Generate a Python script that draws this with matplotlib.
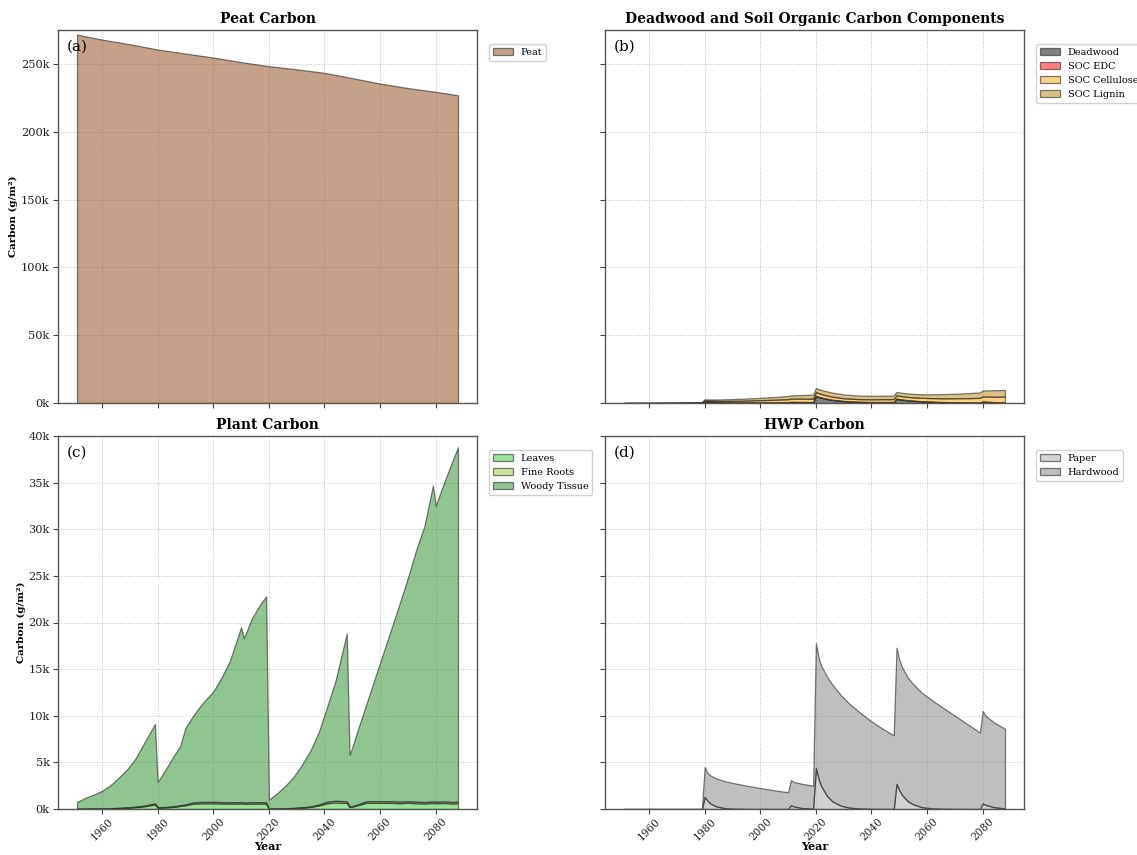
import matplotlib
matplotlib.use("Agg")
import matplotlib.pyplot as plt
from matplotlib.colors import to_rgba
from matplotlib.ticker import FuncFormatter, MultipleLocator

# ---------------- data (carbon in thousand g/m^2) ----------------
peat_years = [1951, 1960, 1970, 1980, 1990, 2000, 2010, 2020, 2030, 2040,
              2050, 2060, 2070, 2080, 2088]
peat = [271.6, 267.9, 264.5, 260.6, 257.6, 254.7, 251.3, 248.3, 246.0, 243.4,
        239.5, 235.5, 232.2, 229.4, 226.9]

soc_years = [1951, 1960, 1970, 1975, 1979, 1980, 1981, 1985, 1990, 1995,
             2000, 2005, 2010, 2011, 2015, 2019, 2020, 2021, 2023, 2026,
             2030, 2035, 2040, 2045, 2048, 2049, 2050, 2053, 2056, 2060,
             2065, 2070, 2075, 2079, 2080, 2084, 2088]
deadwood = [0.0, 0.02, 0.06, 0.12, 0.25, 1.2, 1.0, 0.6, 0.4, 0.35,
            0.35, 0.4, 0.45, 0.7, 0.6, 0.55, 5.0, 4.3, 3.3, 2.2,
            1.3, 0.8, 0.6, 0.6, 0.6, 3.0, 2.6, 1.9, 1.4, 1.0,
            0.6, 0.45, 0.35, 0.35, 0.9, 0.5, 0.3]
soc_edc = [0.0, 0.0, 0.01, 0.02, 0.03, 0.2, 0.15, 0.1, 0.1, 0.1,
           0.12, 0.12, 0.14, 0.2, 0.15, 0.15, 0.3, 0.28, 0.25, 0.2,
           0.18, 0.15, 0.15, 0.15, 0.15, 0.3, 0.28, 0.22, 0.2, 0.18,
           0.16, 0.15, 0.15, 0.15, 0.2, 0.15, 0.15]
soc_cellulose = [0.0, 0.02, 0.04, 0.08, 0.15, 0.6, 0.65, 0.85, 1.1, 1.35,
                 1.6, 1.9, 2.2, 2.3, 2.45, 2.5, 2.7, 2.62, 2.45, 2.2,
                 2.0, 1.95, 2.0, 2.05, 2.1, 2.4, 2.4, 2.35, 2.4, 2.5,
                 2.7, 2.9, 3.1, 3.3, 3.7, 4.0, 4.3]
soc_lignin = [0.0, 0.01, 0.04, 0.08, 0.17, 0.8, 0.85, 1.05, 1.3, 1.5,
              1.73, 2.0, 2.4, 2.4, 2.7, 2.9, 3.0, 3.0, 3.0, 3.0,
              2.82, 2.6, 2.55, 2.6, 2.65, 2.5, 2.52, 2.53, 2.6, 2.72,
              3.04, 3.3, 3.7, 4.0, 4.4, 4.75, 4.85]

plant_years = [1951, 1954, 1957, 1960, 1963, 1966, 1969, 1972, 1975, 1979,
               1980, 1983, 1986, 1988, 1990, 1993, 1996, 2000, 2003, 2006,
               2010, 2011, 2014, 2017, 2019, 2020, 2023, 2026, 2029, 2032,
               2035, 2038, 2041, 2044, 2048, 2049, 2050, 2052, 2055, 2058,
               2061, 2064, 2067, 2070, 2073, 2076, 2079, 2080, 2083, 2086,
               2088]
leaves = [0.02, 0.03, 0.04, 0.05, 0.07, 0.09, 0.13, 0.20, 0.28, 0.48,
          0.15, 0.17, 0.24, 0.32, 0.40, 0.58, 0.61, 0.61, 0.59, 0.58,
          0.59, 0.56, 0.58, 0.59, 0.56, 0.02, 0.04, 0.06, 0.09, 0.14,
          0.22, 0.38, 0.62, 0.70, 0.65, 0.22, 0.25, 0.40, 0.66, 0.67,
          0.66, 0.66, 0.62, 0.66, 0.62, 0.59, 0.64, 0.62, 0.64, 0.59,
          0.62]
fine_roots = [0.01, 0.01, 0.01, 0.02, 0.02, 0.03, 0.04, 0.05, 0.07, 0.12,
              0.05, 0.05, 0.06, 0.08, 0.10, 0.14, 0.15, 0.15, 0.15, 0.14,
              0.15, 0.14, 0.15, 0.15, 0.14, 0.01, 0.01, 0.02, 0.03, 0.04,
              0.06, 0.10, 0.16, 0.18, 0.17, 0.06, 0.07, 0.10, 0.16, 0.17,
              0.16, 0.17, 0.16, 0.16, 0.16, 0.15, 0.16, 0.16, 0.16, 0.15,
              0.16]
woody_tissue = [0.72, 1.16, 1.50, 1.88, 2.46, 3.23, 4.08, 5.15, 6.65, 8.50,
                2.70, 4.08, 5.50, 6.30, 8.20, 9.38, 10.54, 11.84, 13.36, 15.18,
                18.76, 17.60, 19.77, 21.26, 22.10, 0.97, 1.65, 2.42, 3.38, 4.62,
                6.02, 7.82, 10.22, 12.92, 17.98, 5.52, 6.28, 8.00, 10.38, 13.06,
                15.78, 18.47, 21.22, 23.98, 27.02, 29.66, 33.90, 31.72, 34.20, 36.56,
                38.02]

hwp_years = [1951, 1979, 1980, 1981, 1982, 1984, 1987, 1990, 1995, 2000,
             2005, 2010, 2011, 2012, 2015, 2019, 2020, 2021, 2022, 2024,
             2026, 2029, 2032, 2036, 2040, 2044, 2048, 2049, 2050, 2051,
             2053, 2055, 2058, 2062, 2066, 2070, 2074, 2079, 2080, 2081,
             2084, 2088]
paper = [0.0, 0.0, 1.3, 0.9, 0.6, 0.3, 0.1, 0.03, 0.01, 0.0,
         0.0, 0.0, 0.4, 0.28, 0.1, 0.03, 4.4, 3.2, 2.4, 1.4,
         0.8, 0.35, 0.15, 0.05, 0.02, 0.01, 0.0, 2.7, 2.0, 1.5,
         0.85, 0.5, 0.2, 0.06, 0.02, 0.01, 0.0, 0.0, 0.6, 0.45,
         0.2, 0.06]
hardwood = [0.0, 0.0, 3.2, 3.0, 3.0, 3.0, 2.9, 2.77, 2.49, 2.25,
            2.0, 1.8, 2.7, 2.62, 2.6, 2.47, 13.4, 13.0, 12.9, 12.8,
            12.5, 11.85, 11.15, 10.25, 9.38, 8.59, 7.9, 14.6, 14.0, 13.7,
            13.25, 12.9, 12.3, 11.54, 10.78, 9.99, 9.2, 8.2, 9.9, 9.55,
            9.1, 8.54]

x_ticks = [1960, 1980, 2000, 2020, 2040, 2060, 2080]

# ---------------- style ----------------
plt.rcParams["font.family"] = ["DejaVu Serif"]
plt.rcParams["axes.edgecolor"] = "#555555"
plt.rcParams["xtick.color"] = "#444444"
plt.rcParams["ytick.color"] = "#444444"
plt.rcParams["xtick.labelcolor"] = "#222222"
plt.rcParams["ytick.labelcolor"] = "#222222"

FILL_ALPHA = 0.5
EDGE = (0.15, 0.15, 0.15, 0.6)


def kilo(v):
    return [x * 1000 for x in v]


def fmt_k(v, _pos):
    return f"{v / 1000:.0f}k"


fig = plt.figure(figsize=(11.37, 8.55), dpi=100)
W, H = 1137, 855


def place(left, top, right, bottom):
    return fig.add_axes([left / W, 1 - bottom / H, (right - left) / W, (bottom - top) / H])


ax_a = place(58, 30, 477, 403)
ax_b = place(605, 30, 1024, 403)
ax_c = place(58, 436, 477, 809)
ax_d = place(605, 436, 1024, 809)
ax_b.sharey(ax_a)
ax_d.sharey(ax_c)
ax_a.sharex(ax_c)
ax_b.sharex(ax_d)


def stack(ax, years, series, colors, labels):
    faces = [to_rgba(c, FILL_ALPHA) for c in colors]
    return ax.stackplot(years, *[kilo(s) for s in series], colors=faces,
                        labels=labels, edgecolor=EDGE, linewidth=0.9)


stack(ax_a, peat_years, [peat], ["saddlebrown"], ["Peat"])
stack(ax_b, soc_years, [deadwood, soc_edc, soc_cellulose, soc_lignin],
      ["black", "red", "orange", "darkgoldenrod"],
      ["Deadwood", "SOC EDC", "SOC Cellulose", "SOC Lignin"])
stack(ax_c, plant_years, [leaves, fine_roots, woody_tissue],
      ["limegreen", "yellowgreen", "forestgreen"],
      ["Leaves", "Fine Roots", "Woody Tissue"])
stack(ax_d, hwp_years, [paper, hardwood], ["darkgray", "gray"],
      ["Paper", "Hardwood"])

titles = {ax_a: "Peat Carbon",
          ax_b: "Deadwood and Soil Organic Carbon Components",
          ax_c: "Plant Carbon",
          ax_d: "HWP Carbon"}
tags = {ax_a: "(a)", ax_b: "(b)", ax_c: "(c)", ax_d: "(d)"}

ax_a.set_ylim(0, 275000)
ax_a.yaxis.set_major_locator(MultipleLocator(50000))
ax_c.set_ylim(0, 40000)
ax_c.yaxis.set_major_locator(MultipleLocator(5000))
ax_c.set_xticks(x_ticks)
ax_d.set_xticks(x_ticks)

for ax in (ax_a, ax_b, ax_c, ax_d):
    ax.set_title(titles[ax], fontsize=10, fontweight="bold", pad=5)
    ax.text(0.022, 0.975, tags[ax], transform=ax.transAxes, fontsize=11,
            va="top", ha="left")
    ax.grid(True, linestyle=":", linewidth=0.7, color="#b0b0b0", alpha=0.8)
    ax.set_axisbelow(True)
    ax.yaxis.set_major_formatter(FuncFormatter(fmt_k))
    ax.tick_params(axis="y", labelsize=8.2, length=3.5, width=0.8, pad=2.5)
    ax.tick_params(axis="x", labelsize=7.6, length=3.5, width=0.8, pad=1.5)
    for sp in ax.spines.values():
        sp.set_linewidth(1.0)
    ax.legend(loc="upper left", bbox_to_anchor=(1.018, 0.975), fontsize=7,
              framealpha=0.9, edgecolor="#cccccc", borderaxespad=0.5)

for ax in (ax_a, ax_b):
    ax.tick_params(labelbottom=False)
for ax in (ax_b, ax_d):
    ax.tick_params(labelleft=False)
for ax in (ax_c, ax_d):
    ax.tick_params(axis="x", rotation=45)
    ax.set_xlabel("Year", fontsize=8, fontweight="bold", labelpad=-1)
for ax in (ax_a, ax_c):
    ax.set_ylabel("Carbon (g/m²)", fontsize=7.5, fontweight="bold", labelpad=2)

fig.savefig("out.png", dpi=100)
